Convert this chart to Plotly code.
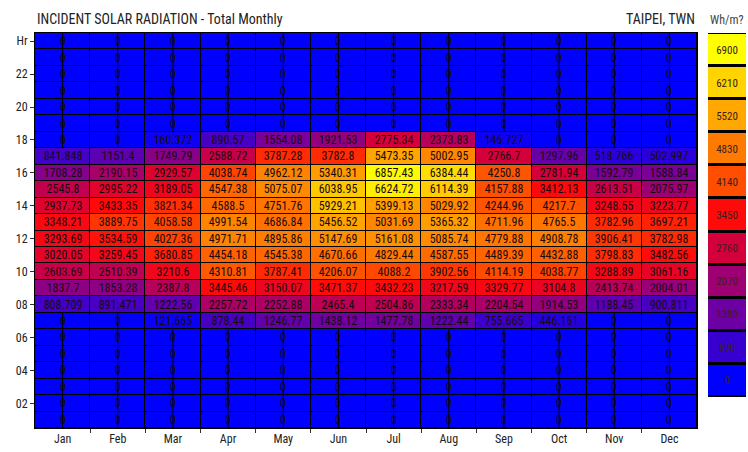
import plotly.graph_objects as go

months = ["Jan", "Feb", "Mar", "Apr", "May", "Jun", "Jul", "Aug", "Sep", "Oct", "Nov", "Dec"]
hour_ticks = [24, 22, 20, 18, 16, 14, 12, 10, 8, 6, 4, 2]
hour_labels = ["Hr", "22", "20", "18", "16", "14", "12", "10", "08", "06", "04", "02"]

# Wh/m2 for hours 18 down to 7 (all other hours are 0)
day_hours = [18, 17, 16, 15, 14, 13, 12, 11, 10, 9, 8, 7]
jan = [0, 841.848, 1708.28, 2545.8, 2937.73, 3348.21, 3293.69, 3020.05, 2603.69, 1837.7, 808.709, 0]
feb = [0, 1151.4, 2190.15, 2995.22, 3433.35, 3889.75, 3534.59, 3259.45, 2510.39, 1853.28, 891.471, 0]
mar = [160.372, 1749.79, 2929.57, 3189.05, 3821.34, 4058.58, 4027.36, 3680.85, 3210.6, 2387.8, 1222.56, 121.665]
apr = [890.57, 2588.72, 4038.74, 4547.38, 4588.5, 4991.54, 4971.71, 4454.18, 4310.81, 3445.46, 2257.72, 878.44]
may = [1554.08, 3787.28, 4962.12, 5075.07, 4751.76, 4686.84, 4895.86, 4545.38, 3787.41, 3150.07, 2252.88, 1246.77]
jun = [1921.53, 3782.8, 5340.31, 6038.95, 5929.21, 5456.52, 5147.69, 4670.66, 4206.07, 3471.37, 2465.4, 1438.12]
jul = [2775.34, 5473.35, 6857.43, 6624.72, 5399.13, 5031.69, 5161.08, 4829.44, 4088.2, 3432.23, 2504.86, 1477.78]
aug = [2373.83, 5002.95, 6384.44, 6114.39, 5029.92, 5365.32, 5085.74, 4587.55, 3902.56, 3217.59, 2333.34, 1222.44]
sep = [146.727, 2766.7, 4250.8, 4157.88, 4244.96, 4711.96, 4779.88, 4489.39, 4114.19, 3329.77, 2204.54, 755.665]
oct_ = [0, 1297.96, 2781.94, 3412.13, 4217.7, 4765.5, 4908.78, 4432.88, 4038.77, 3104.8, 1914.53, 446.161]
nov = [0, 518.766, 1592.79, 2613.51, 3248.55, 3782.96, 3906.41, 3798.83, 3288.89, 2413.74, 1188.45, 0]
dec = [0, 502.997, 1588.84, 2075.97, 3223.77, 3697.21, 3782.98, 3482.56, 3061.16, 2004.01, 900.811, 0]

legend_values = [0, 690, 1380, 2070, 2760, 3450, 4140, 4830, 5520, 6210, 6900]
legend_colors = ["#0000FF", "#3800D0", "#6C00A4", "#9E0074", "#D4003C", "#FF0A0A",
                 "#FF4E00", "#FF7A00", "#FFA800", "#FFD400", "#FFFF00"]

month_series = [jan, feb, mar, apr, may, jun, jul, aug, sep, oct_, nov, dec]
hours = list(range(1, 25))
z = []
for h in hours:
    row = []
    for s in month_series:
        row.append(s[day_hours.index(h)] if h in day_hours else 0)
    z.append(row)
text = [[f"{v:g}" for v in row] for row in z]

zmax = legend_values[-1]
colorscale = [[v / zmax, c] for v, c in zip(legend_values, legend_colors)]

NARROW = "Liberation Sans Narrow, Arial Narrow, Roboto Condensed, Arial, sans-serif"

fig = go.Figure()
fig.add_trace(go.Heatmap(
    z=z, x=list(range(12)), y=hours, text=text, texttemplate="%{text}",
    textfont=dict(family=NARROW, size=12, color="#1a0a10"),
    colorscale=colorscale, zmin=0, zmax=zmax, showscale=False,
    xgap=1, ygap=1, hoverinfo="skip", xaxis="x", yaxis="y"))

fig.add_trace(go.Heatmap(
    z=[[v] for v in legend_values], x=[0], y=list(range(len(legend_values))),
    text=[[str(v)] for v in legend_values], texttemplate="%{text}",
    textfont=dict(family=NARROW, size=11, color="#3a2020"),
    colorscale=colorscale, zmin=0, zmax=zmax, showscale=False,
    ygap=3, hoverinfo="skip", xaxis="x2", yaxis="y2"))

# center divider lines on empty cells
shapes = []
for hi, h in enumerate(hours):
    for m in range(12):
        if z[hi][m] == 0:
            shapes.append(dict(type="line", xref="x", yref="y", x0=m, x1=m,
                               y0=h - 0.5, y1=h + 0.5, line=dict(color="#000000", width=1)))

W, H = 748, 452
L, R, T, B = 35, 2, 33, 24
pw = W - L - R
main_end = (697 - L) / pw
leg_start = (708 - L) / pw
ph = H - T - B
leg_bottom = (H - B - 397) / ph

fig.update_layout(
    width=W, height=H,
    margin=dict(l=L, r=R, t=T, b=B, pad=0),
    paper_bgcolor="white", plot_bgcolor="black",
    font=dict(family=NARROW, size=12, color="#222"),
    shapes=shapes,
    xaxis=dict(domain=[0, main_end], range=[-0.5, 11.5], tickvals=list(range(12)),
               ticktext=months, ticks="", showgrid=False, zeroline=False,
               showline=True, linecolor="black", linewidth=1, mirror=True,
               minor=dict(tickvals=[i + 0.5 for i in range(11)], ticks="outside",
                          ticklen=4, tickcolor="#333"),
               tickfont=dict(size=12, color="#222"), fixedrange=True),
    yaxis=dict(range=[0.5, 24.5], tickvals=hour_ticks, ticktext=hour_labels,
               ticks="outside", ticklen=4, tickcolor="#333", showgrid=False,
               zeroline=False, showline=True, linecolor="black", linewidth=1,
               mirror=True, tickfont=dict(size=12, color="#222"), fixedrange=True),
    xaxis2=dict(domain=[leg_start, 1], range=[-0.5, 0.5], visible=False,
                anchor="y2", fixedrange=True),
    yaxis2=dict(domain=[leg_bottom, 1], range=[-0.5, 10.5], visible=False,
                anchor="x2", fixedrange=True),
    annotations=[
        dict(text="INCIDENT SOLAR RADIATION - Total Monthly", xref="paper", yref="paper",
             x=0, y=1, xanchor="left", yanchor="bottom", yshift=4, showarrow=False,
             font=dict(family=NARROW, size=14, color="#222")),
        dict(text="TAIPEI, TWN", xref="paper", yref="paper", x=main_end, y=1,
             xanchor="right", yanchor="bottom", yshift=4, showarrow=False,
             font=dict(family=NARROW, size=14, color="#222")),
        dict(text="Wh/m?", xref="paper", yref="paper", x=(leg_start + 1) / 2, y=1,
             xanchor="center", yanchor="bottom", yshift=4, showarrow=False,
             font=dict(family=NARROW, size=12, color="#444")),
    ],
)

fig.write_html("out.html")
